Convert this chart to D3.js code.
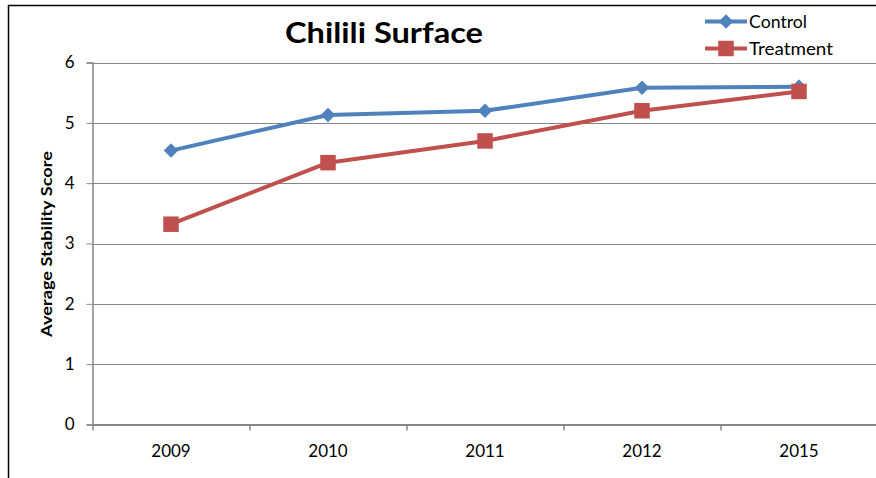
<!DOCTYPE html>
<html><head><meta charset="utf-8">
<script src="https://cdn.jsdelivr.net/npm/d3@7"></script>
<style>body{margin:0;background:#fff}svg{display:block}text{font-family:Lato,"Open Sans",sans-serif}</style>
</head><body>
<svg id="c" width="876" height="478"></svg>
<script>
const categories = ["2009","2010","2011","2012","2015"];
const controlValues = [4.54, 5.13, 5.20, 5.58, 5.60];
const treatmentValues = [3.32, 4.34, 4.70, 5.20, 5.52];
const yTicks = [0,1,2,3,4,5,6];
const seriesNames = ["Control","Treatment"];
const colors = ["#4F81BD","#C0504D"];

(function(){
const svg = d3.select("#c");
// outer chart border (cropped at right/bottom)
svg.append("rect").attr("x",8.5).attr("y",5.5).attr("width",900).attr("height",500)
  .attr("fill","none").attr("stroke","#000").attr("stroke-width",1.5);

const pL = 92.5, pR = 877.5, pT = 62.5, pB = 424.5;
const x = d3.scaleBand().domain(categories).range([pL,pR]);
const y = d3.scaleLinear().domain([0,6]).range([pB,pT]);

// gridlines
svg.append("g").selectAll("line").data(yTicks.filter(d=>d>0)).join("line")
  .attr("x1",pL).attr("x2",pR).attr("y1",d=>Math.round(y(d))+0.5).attr("y2",d=>Math.round(y(d))+0.5)
  .attr("stroke","#868686").attr("stroke-width",1.2);

const yAxis = svg.append("g").attr("transform",`translate(${pL},0)`)
  .call(d3.axisLeft(y).tickValues(yTicks).tickSize(6).tickPadding(12).tickFormat(d3.format("d")));
yAxis.select(".domain").attr("stroke","#868686").attr("stroke-width",1.5);
yAxis.selectAll(".tick line").attr("stroke","#868686");
yAxis.selectAll("text").attr("font-size",17).attr("fill","#000").attr("font-family","Lato,sans-serif");

const xAxis = svg.append("g").attr("transform",`translate(0,${pB})`)
  .call(d3.axisBottom(x).tickSize(0).tickPadding(20));
xAxis.select(".domain").attr("stroke","#868686").attr("stroke-width",2);
xAxis.selectAll("text").attr("font-size",17).attr("fill","#000").attr("font-family","Lato,sans-serif");
// category boundary ticks
svg.append("g").selectAll("line").data(categories).join("line")
  .attr("x1",d=>x(d)+0.5).attr("x2",d=>x(d)+0.5).attr("y1",pB).attr("y2",pB+6)
  .attr("stroke","#868686").attr("stroke-width",1.5);

const cx = d=>x(d)+x.bandwidth()/2;
const line = d3.line().x((d,i)=>cx(categories[i])).y(d=>y(d));
const diamond = d3.symbol().type(d3.symbolDiamond2).size(135);
const square = d3.symbol().type(d3.symbolSquare).size(240);

// Control
svg.append("path").datum(controlValues).attr("d",line).attr("fill","none")
  .attr("stroke",colors[0]).attr("stroke-width",4).attr("stroke-linejoin","round");
svg.append("g").selectAll("path").data(controlValues).join("path")
  .attr("transform",(d,i)=>`translate(${cx(categories[i])},${y(d)})`)
  .attr("d",diamond).attr("fill",colors[0]);
// Treatment
svg.append("path").datum(treatmentValues).attr("d",line).attr("fill","none")
  .attr("stroke",colors[1]).attr("stroke-width",4).attr("stroke-linejoin","round");
svg.append("g").selectAll("path").data(treatmentValues).join("path")
  .attr("transform",(d,i)=>`translate(${cx(categories[i])},${y(d)})`)
  .attr("d",square).attr("fill",colors[1]);

// title
svg.append("text").attr("x",384).attr("y",43).attr("text-anchor","middle")
  .attr("font-size",28).attr("font-weight","bold")
  .attr("textLength",198).attr("lengthAdjust","spacingAndGlyphs").text("Chilili Surface");
// y axis label
svg.append("text").attr("transform","translate(52,244) rotate(-90)").attr("text-anchor","middle")
  .attr("font-size",16).attr("font-weight","bold")
  .attr("textLength",186).attr("lengthAdjust","spacingAndGlyphs").text("Average Stability Score");

// legend
const leg = svg.append("g");
[[0,21.5,58],[1,48.5,84]].forEach(([i,ly,tl])=>{
  leg.append("line").attr("x1",705).attr("x2",747).attr("y1",ly).attr("y2",ly)
    .attr("stroke",colors[i]).attr("stroke-width",4);
  leg.append("path").attr("transform",`translate(726,${ly})`).attr("d",i===0?diamond:square).attr("fill",colors[i]);
  leg.append("text").attr("x",749).attr("y",ly+6).attr("font-size",17)
    .attr("textLength",tl).attr("lengthAdjust","spacingAndGlyphs").text(seriesNames[i]);
});
})();
</script>
</body></html>
